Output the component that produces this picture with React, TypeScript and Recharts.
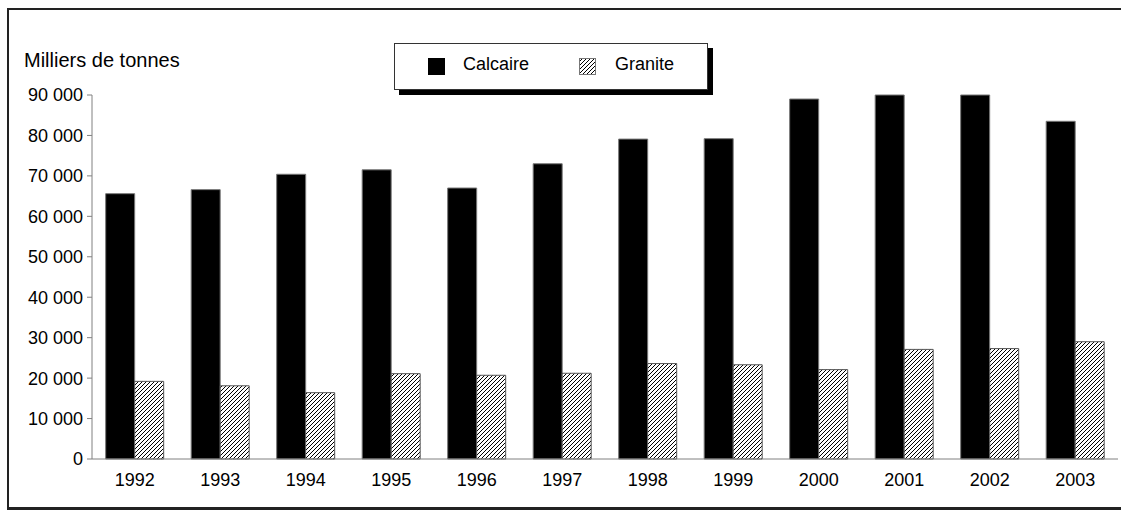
import React from 'react';
import { BarChart, Bar, XAxis, YAxis } from 'recharts';

const years = ['1992', '1993', '1994', '1995', '1996', '1997', '1998', '1999', '2000', '2001', '2002', '2003'];
const calcaire = [65600, 66600, 70400, 71500, 67000, 73000, 79100, 79200, 89000, 90000, 90000, 83500];
const granite = [19200, 18100, 16400, 21100, 20700, 21200, 23600, 23300, 22100, 27100, 27300, 29000];
const yTicks = [0, 10000, 20000, 30000, 40000, 50000, 60000, 70000, 80000, 90000];

const data = years.map((year, i) => ({ year, calcaire: calcaire[i], granite: granite[i] }));

const font = '"Liberation Sans", Arial, sans-serif';
const axisGray = '#808080';

const fmt = (v: number) => (v === 0 ? '0' : `${Math.floor(v / 1000)} ${String(v % 1000).padStart(3, '0')}`);

const Hatch = ({ size }: { size: number }) => (
  <svg width={size} height={size} style={{ display: 'block' }}>
    <defs>
      <pattern id="hatchLegend" width="4" height="4" patternUnits="userSpaceOnUse">
        <path d="M-1,1 l2,-2 M0,4 l4,-4 M3,5 l2,-2" stroke="#000" strokeWidth="1" />
      </pattern>
    </defs>
    <rect x="0.5" y="0.5" width={size - 1} height={size - 1} fill="url(#hatchLegend)" stroke="#777" />
  </svg>
);

export default function App() {
  return (
    <div style={{ position: 'relative', width: 1121, height: 510, fontFamily: font, color: '#000' }}>
      <style>{'body{margin:0;overflow:hidden;}'}</style>
      {/* outer frame, right edge runs off the page */}
      <div
        style={{
          position: 'absolute',
          left: 7,
          top: 8,
          width: 1120,
          height: 497,
          border: '2px solid #222',
          borderBottomWidth: 3,
        }}
      />
      <div style={{ position: 'absolute', left: 24, top: 50, fontSize: 20, lineHeight: '20px', whiteSpace: 'nowrap' }}>
        Milliers de tonnes
      </div>
      {/* legend box with drop shadow */}
      <div
        style={{
          position: 'absolute',
          left: 394,
          top: 43,
          width: 312,
          height: 45,
          border: '1px solid #333',
          background: '#fff',
          boxShadow: '5px 5px 0 #000',
          fontSize: 18,
        }}
      >
        <div style={{ position: 'absolute', left: 33, top: 14, width: 17, height: 17, background: '#000' }} />
        <div style={{ position: 'absolute', left: 68, top: 11, lineHeight: '18px' }}>Calcaire</div>
        <div style={{ position: 'absolute', left: 184, top: 14 }}>
          <Hatch size={17} />
        </div>
        <div style={{ position: 'absolute', left: 220, top: 11, lineHeight: '18px' }}>Granite</div>
      </div>
      <div style={{ position: 'absolute', left: 0, top: 0 }}>
        <BarChart
          width={1121}
          height={510}
          data={data}
          margin={{ top: 95, right: 3, left: 12, bottom: 20 }}
          barCategoryGap="16%"
          barGap={0}
        >
          <defs>
            <pattern id="hatch" width="4" height="4" patternUnits="userSpaceOnUse">
              <rect width="4" height="4" fill="#fff" />
              <path d="M-1,1 l2,-2 M0,4 l4,-4 M3,5 l2,-2" stroke="#000" strokeWidth="1" />
            </pattern>
          </defs>
          <XAxis
            dataKey="year"
            axisLine={{ stroke: axisGray }}
            tickLine={false}
            tickSize={0}
            tickMargin={14}
            height={31}
            tick={{ fill: '#000', fontSize: 18, fontFamily: font }}
          />
          <YAxis
            domain={[0, 90000]}
            ticks={yTicks}
            tickFormatter={fmt}
            axisLine={{ stroke: axisGray }}
            tickLine={{ stroke: axisGray }}
            tickSize={5}
            tickMargin={4}
            width={80}
            tick={{ fill: '#000', fontSize: 18, fontFamily: font }}
            interval={0}
          />
          <Bar dataKey="calcaire" fill="#000" stroke="#777" strokeWidth={1} isAnimationActive={false} />
          <Bar dataKey="granite" fill="url(#hatch)" stroke="#555" strokeWidth={1} isAnimationActive={false} />
        </BarChart>
      </div>
    </div>
  );
}
